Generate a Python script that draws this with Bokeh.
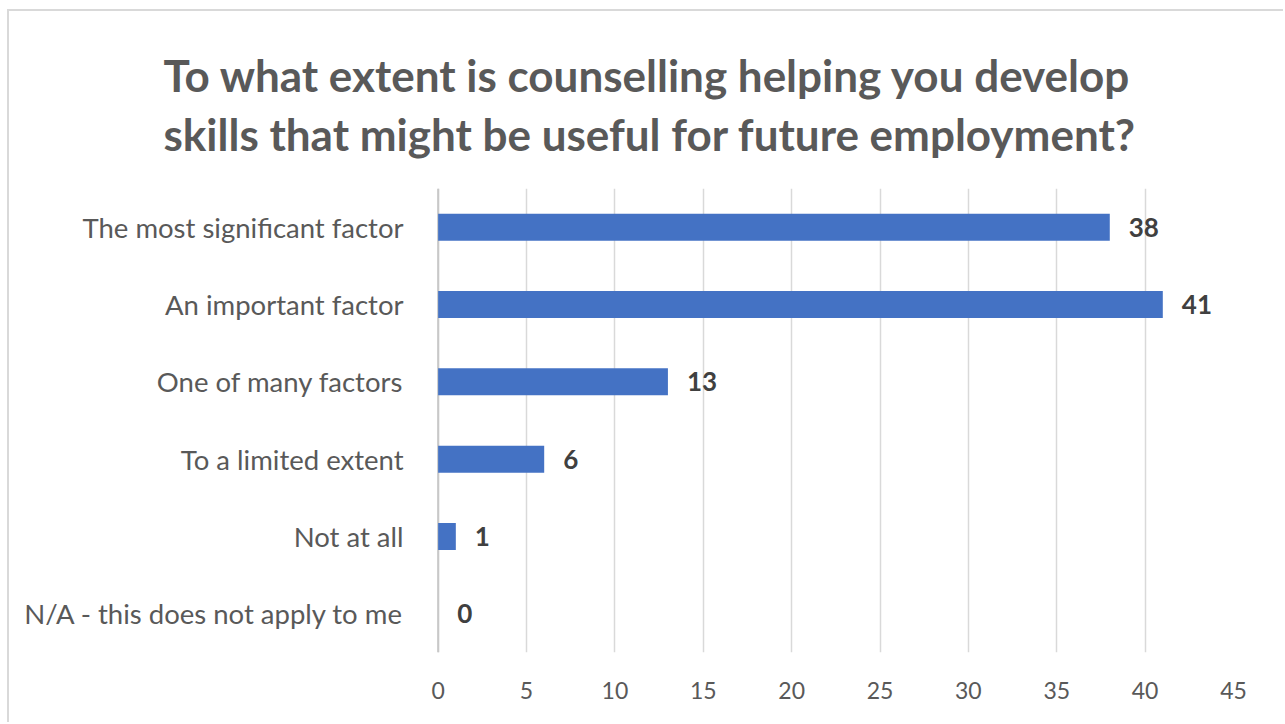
from bokeh.plotting import figure
from bokeh.models import ColumnDataSource, Title, FixedTicker, Range1d, FactorRange
from bokeh.core.properties import value
from bokeh.embed import file_html
from bokeh.resources import INLINE

title_lines = ["To what extent is counselling helping you develop",
               "skills that might be useful for future employment?"]
categories = ["The most significant factor", "An important factor", "One of many factors",
              "To a limited extent", "Not at all", "N/A - this does not apply to me"]
values = [38, 41, 13, 6, 1, 0]
x_ticks = [0, 5, 10, 15, 20, 25, 30, 35, 40, 45]

FONT = "Lato"
GREY = "#595959"
BAR = "#4472C4"
GRID = "#d9d9d9"

src = ColumnDataSource(dict(cat=categories, val=values, lab=[str(v) for v in values]))

p = figure(width=1276, height=713, output_backend="svg", toolbar_location=None, title=None,
           y_range=FactorRange(factors=categories[::-1]), x_range=Range1d(-0.15, 45),
           min_border_left=426, min_border_right=52, min_border_top=177, min_border_bottom=72)
p.styles = {"margin-left": "7px", "margin-top": "9px",
            "border-left": "2px solid #d9d9d9", "border-top": "2px solid #d9d9d9"}
p.outline_line_color = None
p.background_fill_color = "white"

p.xaxis.ticker = FixedTicker(ticks=x_ticks)
p.xgrid.ticker = FixedTicker(ticks=x_ticks)
p.xgrid.grid_line_color = GRID
p.xgrid.grid_line_width = 1.5
p.ygrid.grid_line_color = None
p.segment(x0=[x_ticks[0]], x1=[x_ticks[0]], y0=[0], y1=[len(categories)],
          line_color="#c8c8c8", line_width=2)

p.hbar(y="cat", right="val", left=0, height=0.35, source=src, fill_color=BAR, line_color=None)
p.text(x="val", y="cat", text="lab", source=src, x_offset=19, text_baseline="middle",
       text_font=value(FONT), text_font_style="bold", text_font_size="26px", text_color="#404040")

for ax in (p.xaxis, p.yaxis):
    ax.axis_line_color = None
    ax.major_tick_line_color = None
    ax.minor_tick_line_color = None
    ax.major_label_text_font = FONT
    ax.major_label_text_color = GREY
p.yaxis.major_label_text_font_size = "27.5px"
p.xaxis.major_label_text_font_size = "23px"
p.xaxis.major_label_standoff = 23
p.yaxis.major_label_standoff = 26

p.add_layout(Title(text="\n".join(title_lines), align="left", offset=-272, standoff=56,
                   text_font=FONT, text_font_style="bold", text_font_size="44px",
                   text_line_height=1.14, text_color=GREY), "above")

open("out.html", "w").write(file_html(p, INLINE))
